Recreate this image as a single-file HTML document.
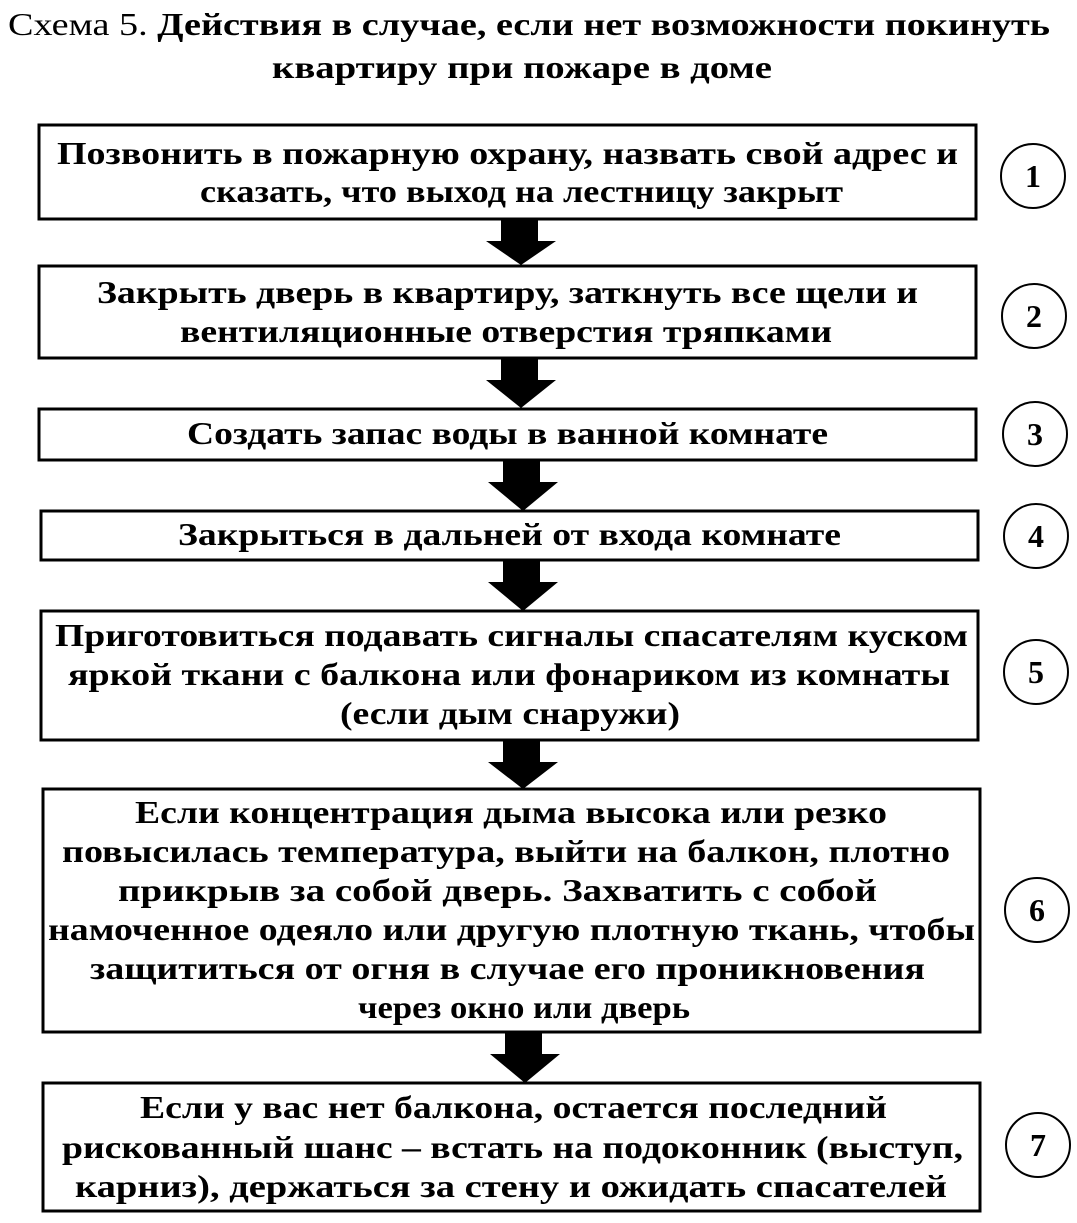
<!DOCTYPE html>
<html><head><meta charset="utf-8"><style>html,body{margin:0;padding:0;background:#fff}svg{display:block}</style></head>
<body>
<svg width="1077" height="1223" viewBox="0 0 1077 1223" xmlns="http://www.w3.org/2000/svg" font-family="'Liberation Serif', serif" font-weight="bold" font-size="32" fill="#000">
<g fill="none" stroke="#000" stroke-width="3">
<rect x="39" y="125" width="937" height="94"/>
<rect x="39" y="266" width="937" height="92"/>
<rect x="39" y="409" width="937" height="51"/>
<rect x="41" y="511" width="937" height="49"/>
<rect x="41" y="611" width="937" height="129"/>
<rect x="43" y="789" width="937" height="243"/>
<rect x="43" y="1083" width="937" height="128"/>
<g stroke-width="2">
<circle cx="1033" cy="176" r="32"/>
<circle cx="1034" cy="316" r="32"/>
<circle cx="1035" cy="434" r="32"/>
<circle cx="1036" cy="536" r="32"/>
<circle cx="1036" cy="672" r="32"/>
<circle cx="1037" cy="910" r="32"/>
<circle cx="1038" cy="1145" r="32"/>
</g>
</g>
<g>
<path d="M501 219h37v22h18l-35 24l-35-24h15z"/>
<path d="M501 358h37v22h18l-35 28l-35-28h15z"/>
<path d="M503 460h37v22h18l-35 29l-35-29h15z"/>
<path d="M503 560h37v22h18l-35 29l-35-29h15z"/>
<path d="M503 740h37v22h18l-35 27l-35-27h15z"/>
<path d="M505 1032h37v22h18l-35 29l-35-29h15z"/>
</g>
<g font-size="32">
<text x="1033" y="187" text-anchor="middle">1</text>
<text x="1034" y="327" text-anchor="middle">2</text>
<text x="1035" y="445" text-anchor="middle">3</text>
<text x="1036" y="547" text-anchor="middle">4</text>
<text x="1036" y="683" text-anchor="middle">5</text>
<text x="1037" y="921" text-anchor="middle">6</text>
<text x="1038" y="1156" text-anchor="middle">7</text>
</g>
<text x="8" y="35" textLength="1042" lengthAdjust="spacingAndGlyphs"><tspan font-weight="normal">Схема 5. </tspan>Действия в случае, если нет возможности покинуть</text>
<text x="272" y="78" textLength="500" lengthAdjust="spacingAndGlyphs">квартиру при пожаре в доме</text>
<text x="57" y="164" textLength="901" lengthAdjust="spacingAndGlyphs">Позвонить в пожарную охрану, назвать свой адрес и</text>
<text x="200" y="202" textLength="643" lengthAdjust="spacingAndGlyphs">сказать, что выход на лестницу закрыт</text>
<text x="97" y="303" textLength="821" lengthAdjust="spacingAndGlyphs">Закрыть дверь в квартиру, заткнуть все щели и</text>
<text x="180" y="342" textLength="652" lengthAdjust="spacingAndGlyphs">вентиляционные отверстия тряпками</text>
<text x="187" y="444" textLength="641" lengthAdjust="spacingAndGlyphs">Создать запас воды в ванной комнате</text>
<text x="178" y="545" textLength="663" lengthAdjust="spacingAndGlyphs">Закрыться в дальней от входа комнате</text>
<text x="55" y="646" textLength="913" lengthAdjust="spacingAndGlyphs">Приготовиться подавать сигналы спасателям куском</text>
<text x="68" y="685" textLength="882" lengthAdjust="spacingAndGlyphs">яркой ткани с балкона или фонариком из комнаты</text>
<text x="340" y="724" textLength="340" lengthAdjust="spacingAndGlyphs">(если дым снаружи)</text>
<text x="135" y="823" textLength="752" lengthAdjust="spacingAndGlyphs">Если концентрация дыма высока или резко</text>
<text x="62" y="862" textLength="888" lengthAdjust="spacingAndGlyphs">повысилась температура, выйти на балкон, плотно</text>
<text x="118" y="901" textLength="759" lengthAdjust="spacingAndGlyphs">прикрыв за собой дверь. Захватить с собой</text>
<text x="48" y="940" textLength="927" lengthAdjust="spacingAndGlyphs">намоченное одеяло или другую плотную ткань, чтобы</text>
<text x="90" y="979" textLength="835" lengthAdjust="spacingAndGlyphs">защититься от огня в случае его проникновения</text>
<text x="358" y="1018" textLength="332" lengthAdjust="spacingAndGlyphs">через окно или дверь</text>
<text x="140" y="1118" textLength="747" lengthAdjust="spacingAndGlyphs">Если у вас нет балкона, остается последний</text>
<text x="62" y="1158" textLength="901" lengthAdjust="spacingAndGlyphs">рискованный шанс – встать на подоконник (выступ,</text>
<text x="75" y="1197" textLength="872" lengthAdjust="spacingAndGlyphs">карниз), держаться за стену и ожидать спасателей</text>
</svg>
</body></html>
